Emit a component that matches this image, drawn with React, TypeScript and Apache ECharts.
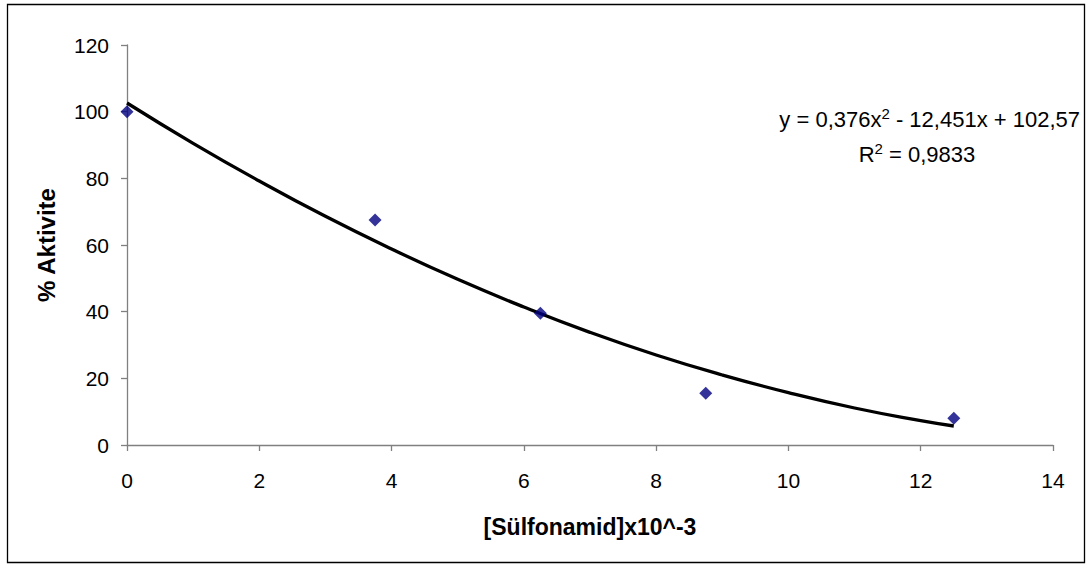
import React, { useEffect, useRef } from "react";
import * as echarts from "echarts";

const concentration = [0, 3.75, 6.25, 8.75, 12.5];
const activity = [100, 67.5, 39.5, 15.5, 8];

const trendX = [0, 1, 2, 3, 4, 5, 6, 7, 8, 9, 10, 11, 12, 12.5];
const trendY = [102.6, 90.5, 79.2, 68.6, 58.8, 49.7, 41.4, 33.8, 27.0, 21.0, 15.7, 11.1, 7.3, 5.7];

const xTicks = [0, 2, 4, 6, 8, 10, 12, 14];
const yTicks = [0, 20, 40, 60, 80, 100, 120];

const FONT = "'Liberation Sans', Arial, sans-serif";

export default function App() {
  const ref = useRef<HTMLDivElement>(null);
  useEffect(() => {
    const chart = echarts.init(ref.current!, null, { renderer: "svg" });
    const axisLine = { show: true, lineStyle: { color: "#808080", width: 1.3 } };
    const rich = {
      n: { fontFamily: FONT, fontSize: 22, fill: "#000", verticalAlign: "bottom" },
      s: { fontFamily: FONT, fontSize: 15, fill: "#000", verticalAlign: "top", padding: [0, 0, 9, 0] },
    };
    chart.setOption({
      animation: false,
      backgroundColor: "#ffffff",
      grid: { left: 127, right: 38, top: 45, bottom: 127 },
      xAxis: {
        type: "value",
        min: xTicks[0],
        max: xTicks[xTicks.length - 1],
        interval: 2,
        axisLine: { ...axisLine, onZero: false },
        axisTick: { show: true, length: 6, inside: false, lineStyle: { color: "#808080", width: 1.3 } },
        splitLine: { show: false },
        axisLabel: { fontFamily: FONT, fontSize: 21, color: "#000", margin: 25 },
        name: "[Sülfonamid]x10^-3",
        nameLocation: "middle",
        nameGap: 70,
        nameTextStyle: { fontFamily: FONT, fontSize: 23, fontWeight: "bold", color: "#000" },
      },
      yAxis: {
        type: "value",
        min: yTicks[0],
        max: yTicks[yTicks.length - 1],
        interval: 20,
        axisLine: { ...axisLine, onZero: false },
        axisTick: { show: true, length: 6, inside: false, lineStyle: { color: "#808080", width: 1.3 } },
        splitLine: { show: false },
        axisLabel: { fontFamily: FONT, fontSize: 21, color: "#000", margin: 18 },
        name: "% Aktivite",
        nameLocation: "middle",
        nameGap: 69,
        nameRotate: 90,
        nameTextStyle: { fontFamily: FONT, fontSize: 24, fontWeight: "bold", color: "#000" },
      },
      series: [
        {
          type: "line",
          data: trendX.map((x, i) => [x, trendY[i]]),
          smooth: true,
          showSymbol: false,
          lineStyle: { color: "#000", width: 3.3 },
          z: 2,
        },
        {
          type: "scatter",
          data: concentration.map((x, i) => [x, activity[i]]),
          symbol: "diamond",
          symbolSize: [13, 13],
          itemStyle: { color: "#000080" },
          z: 3,
        },
      ],
      graphic: [
        {
          type: "rect",
          shape: { x: 7.5, y: 4.5, width: 1077, height: 558 },
          style: { fill: "none", stroke: "#000", lineWidth: 1.3 },
          silent: true,
        },
        {
          type: "text",
          x: 1080,
          y: 118,
          style: {
            text: "{n|y = 0,376x}{s|2}{n| - 12,451x + 102,57}",
            rich,
            align: "right",
            verticalAlign: "middle",
          },
        },
        {
          type: "text",
          x: 917,
          y: 153,
          style: {
            text: "{n|R}{s|2}{n| = 0,9833}",
            rich,
            align: "center",
            verticalAlign: "middle",
          },
        },
      ],
    });
    return () => chart.dispose();
  }, []);
  return (
    <div
      ref={ref}
      style={{ position: "fixed", left: 0, top: 0, width: 1091, height: 572, background: "#fff" }}
    />
  );
}
